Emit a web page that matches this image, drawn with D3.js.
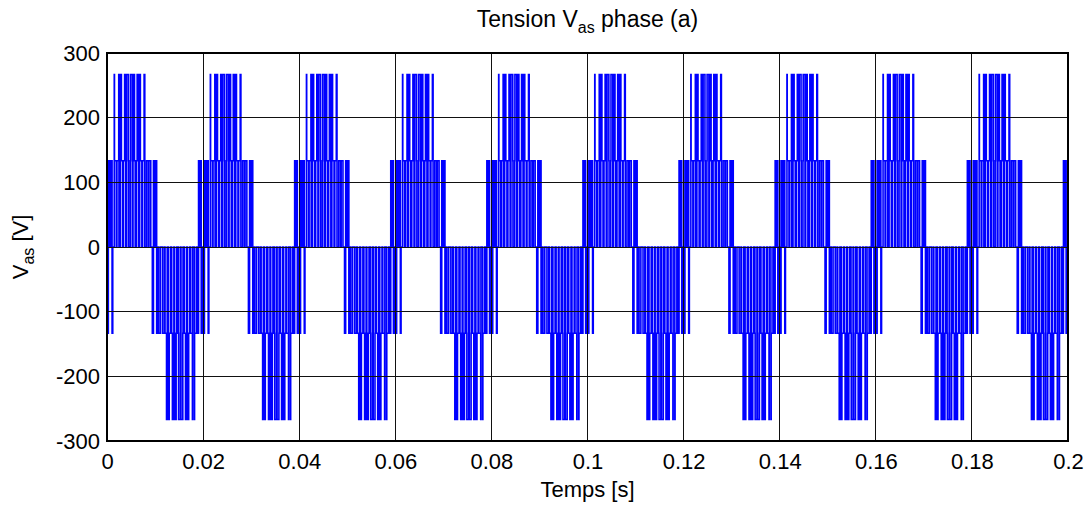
<!DOCTYPE html>
<html>
<head>
<meta charset="utf-8">
<script src="https://cdn.jsdelivr.net/npm/d3@7"></script>
<style>
  html, body { margin: 0; padding: 0; background: #fff; }
  svg text { font-family: "Liberation Sans", Arial, Helvetica, sans-serif; fill: #000; }
</style>
</head>
<body>
<svg id="chart" width="1091" height="506"></svg>
<script>
// One fundamental period (20 ms) of the inverter phase voltage:
// switching instants in milliseconds and the level (V) taken at each instant.
const edgeMs = [
  0.135, 0.278, 0.587, 0.746, 1.056, 1.198,
  1.510, 1.558, 1.932, 2.068, 2.442, 2.490,
  2.769, 3.000, 3.231, 3.436, 3.667, 3.898,
  4.068, 4.442, 4.490, 4.843, 4.892, 5.265,
  5.413, 5.722, 5.865, 6.135, 6.278, 6.587,
  6.802, 6.945, 7.254, 7.413, 7.722, 7.865,
  8.225, 8.599, 8.735, 9.108,
  9.436, 9.667, 9.898, 10.102, 10.333, 10.564,
  10.735, 11.108, 11.558, 11.932,
  12.080, 12.389, 12.532, 12.802, 12.945, 13.254,
  13.469, 13.611, 13.920, 14.080, 14.389, 14.532,
  14.843, 14.892, 15.265, 15.401, 15.775, 15.823,
  16.102, 16.333, 16.564, 16.769, 17.000, 17.231,
  17.402, 17.775, 17.823, 18.177, 18.225, 18.599,
  18.746, 19.055, 19.198, 19.469, 19.611, 19.920
];
const edgeVolts = [
  -133.3, 133.3, 0, 133.3, -133.3, 0,
  266.7, 133.3, 0, 133.3, 266.7, 0,
  266.7, 133.3, 0, 133.3, 266.7, 0,
  266.7, 133.3, 0, 133.3, 266.7, 0,
  266.7, 133.3, 0, 133.3, 266.7, 0,
  266.7, 133.3, 0, 133.3, 266.7, 0,
  133.3, 0, 133.3, 0,
  -133.3, 133.3, 0, 133.3, -133.3, 0,
  -133.3, 0, -133.3, 0,
  -133.3, -266.7, 0, -266.7, -133.3, 0,
  -133.3, -266.7, 0, -266.7, -133.3, 0,
  -133.3, -266.7, 0, -266.7, -133.3, 0,
  -133.3, -266.7, 0, -266.7, -133.3, 0,
  -133.3, -266.7, 0, -266.7, -133.3, 0,
  -133.3, 133.3, 0, 133.3, -133.3, 0
];
const periodSec = 0.02;     // 50 Hz fundamental
const periodCount = 10;     // 0 .. 0.2 s

const xTickValues = [0, 0.02, 0.04, 0.06, 0.08, 0.1, 0.12, 0.14, 0.16, 0.18, 0.2];
const xTickLabels = ["0", "0.02", "0.04", "0.06", "0.08", "0.1", "0.12", "0.14", "0.16", "0.18", "0.2"];
const yTickValues = [-300, -200, -100, 0, 100, 200, 300];
const yTickLabels = ["-300", "-200", "-100", "0", "100", "200", "300"];

const plot = { left: 107, right: 1068, top: 53, bottom: 441 };

const svg = d3.select("#chart");
const x = d3.scaleLinear().domain([0, 0.2]).range([plot.left, plot.right]);
const y = d3.scaleLinear().domain([-300, 300]).range([plot.bottom, plot.top]);

// Build the stepped waveform over all periods
const samples = [[0, 0]];
for (let p = 0; p < periodCount; p++) {
  edgeMs.forEach((ms, i) => samples.push([p * periodSec + ms / 1000, edgeVolts[i]]));
}
samples.push([0.2, 0]);

svg.append("defs").append("clipPath").attr("id", "plotClip")
  .append("rect")
  .attr("x", plot.left).attr("y", plot.top)
  .attr("width", plot.right - plot.left).attr("height", plot.bottom - plot.top);

const line = d3.line()
  .x(d => x(d[0]))
  .y(d => y(d[1]))
  .curve(d3.curveStepAfter);

svg.append("path")
  .datum(samples)
  .attr("clip-path", "url(#plotClip)")
  .attr("fill", "none")
  .attr("stroke", "#0000ff")
  .attr("stroke-width", 1.6)
  .attr("d", line);

// Grid lines on top of the trace
const grid = svg.append("g").attr("stroke", "#111").attr("stroke-width", 1).attr("shape-rendering", "crispEdges");
grid.selectAll("line.gx").data(xTickValues).join("line")
  .attr("x1", d => x(d)).attr("x2", d => x(d))
  .attr("y1", plot.top).attr("y2", plot.bottom);
grid.selectAll("line.gy").data(yTickValues).join("line")
  .attr("x1", plot.left).attr("x2", plot.right)
  .attr("y1", d => y(d)).attr("y2", d => y(d));

// Axes
const xAxis = d3.axisBottom(x).tickValues(xTickValues)
  .tickFormat((d, i) => xTickLabels[i]).tickSize(0).tickPadding(12);
const yAxis = d3.axisLeft(y).tickValues(yTickValues)
  .tickFormat((d, i) => yTickLabels[i]).tickSize(0).tickPadding(7);

const gx = svg.append("g").attr("transform", `translate(0,${plot.bottom})`).call(xAxis);
const gy = svg.append("g").attr("transform", `translate(${plot.left},0)`).call(yAxis);
[gx, gy].forEach(g => {
  g.select(".domain").remove();
  g.selectAll("text").attr("font-size", 22).attr("fill", "#000")
    .style("font-family", "'Liberation Sans', Arial, sans-serif");
});

// Plot box
svg.append("rect")
  .attr("x", plot.left).attr("y", plot.top)
  .attr("width", plot.right - plot.left).attr("height", plot.bottom - plot.top)
  .attr("fill", "none").attr("stroke", "#000").attr("stroke-width", 1.2)
  .attr("shape-rendering", "crispEdges");

// Title
const title = svg.append("text")
  .attr("x", (plot.left + plot.right) / 2).attr("y", 27)
  .attr("text-anchor", "middle").attr("font-size", 23);
title.append("tspan").text("Tension V");
title.append("tspan").attr("font-size", 16).attr("dy", 6).text("as");
title.append("tspan").attr("dy", -6).text(" phase (a)");

// X label
svg.append("text")
  .attr("x", (plot.left + plot.right) / 2).attr("y", 497)
  .attr("text-anchor", "middle").attr("font-size", 22)
  .text("Temps [s]");

// Y label
const ylab = svg.append("text")
  .attr("transform", `translate(28,${(plot.top + plot.bottom) / 2}) rotate(-90)`)
  .attr("text-anchor", "middle").attr("font-size", 22);
ylab.append("tspan").text("V");
ylab.append("tspan").attr("font-size", 16).attr("dy", 6).text("as");
ylab.append("tspan").attr("dy", -6).text(" [V]");
</script>
</body>
</html>
